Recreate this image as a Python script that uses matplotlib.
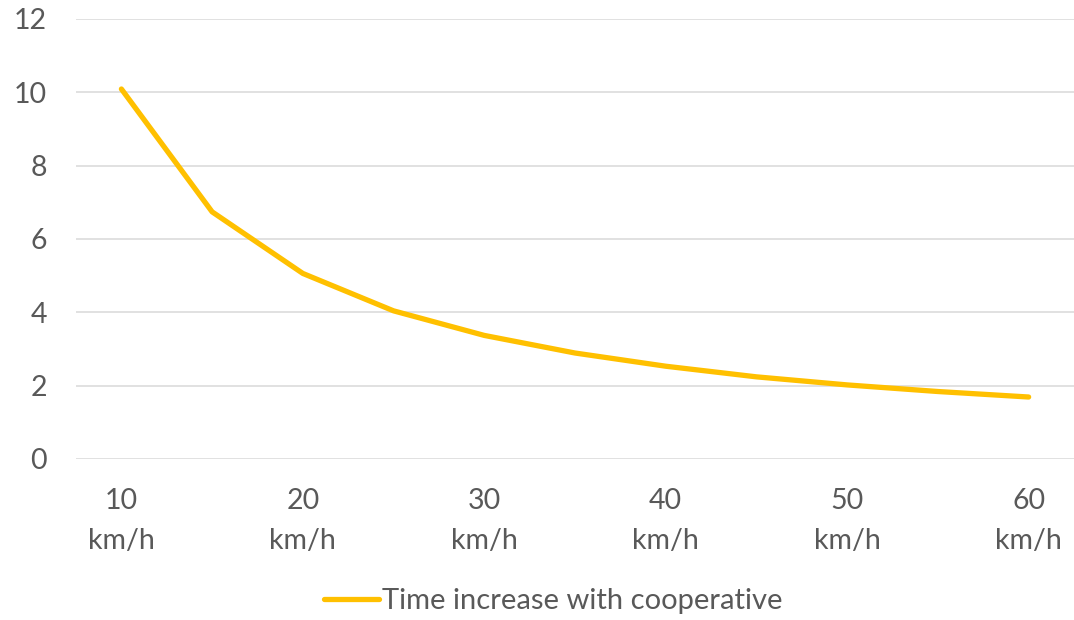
import matplotlib
matplotlib.use("Agg")
import matplotlib.pyplot as plt

categories = ["10\nkm/h", "15\nkm/h", "20\nkm/h", "25\nkm/h", "30\nkm/h", "35\nkm/h",
              "40\nkm/h", "45\nkm/h", "50\nkm/h", "55\nkm/h", "60\nkm/h"]
values = [10.09, 6.74, 5.06, 4.04, 3.37, 2.89, 2.53, 2.24, 2.02, 1.84, 1.69]
series_name = "Time increase with cooperative"
y_ticks = [0, 2, 4, 6, 8, 10, 12]

plt.rcParams['font.family'] = ['Lato', 'DejaVu Sans']
text_color = "#595959"
fs = 20.5

fig = plt.figure(figsize=(10.74, 6.2), dpi=100)
ax = fig.add_axes([0.0708, 0.2597, 0.9292, 0.7097])

x = list(range(len(categories)))
ax.plot(x, values, color="#FFC000", linewidth=3.8, solid_capstyle="round",
        solid_joinstyle="round", label=series_name, zorder=3)

ax.set_xlim(-0.5, len(categories) - 0.5)
ax.set_ylim(0, 12)
ax.set_yticks(y_ticks)
ax.set_yticklabels([str(v) for v in y_ticks])
shown = list(range(0, len(categories), 2))
ax.set_xticks(shown)
ax.set_xticklabels([categories[i] for i in shown], linespacing=1.66)

ax.grid(axis="y", color="#D9D9D9", linewidth=1.1, zorder=0)
for s in ["top", "right", "left", "bottom"]:
    ax.spines[s].set_visible(False)
ax.tick_params(axis="both", length=0, labelsize=fs, colors=text_color)
ax.tick_params(axis="y", pad=21)
ax.tick_params(axis="x", pad=21)

leg = fig.legend(loc="center", bbox_to_anchor=(0.515, 0.031), frameon=False,
                 fontsize=fs + 0.5, handlelength=1.9, handletextpad=0.1)
for t in leg.get_texts():
    t.set_color(text_color)

fig.savefig("out.png", dpi=100)
